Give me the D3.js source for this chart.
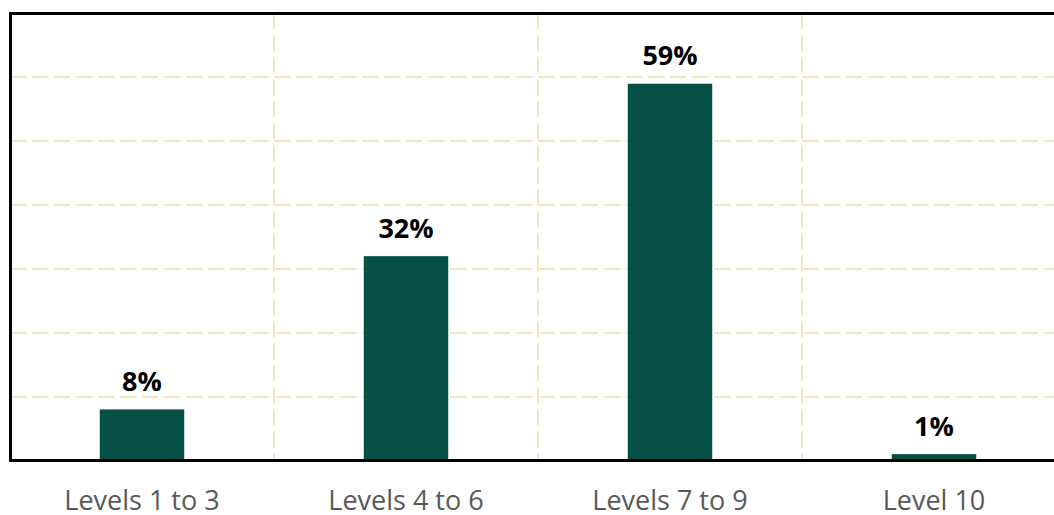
<!DOCTYPE html>
<html>
<head>
<meta charset="utf-8">
<script src="https://cdn.jsdelivr.net/npm/d3@7"></script>
<style>
  html, body { margin: 0; padding: 0; background: #ffffff; }
  svg { display: block; }
</style>
</head>
<body>
<svg id="chart" width="1054" height="515"></svg>
<script>
// Share of respondents by level band
const categories = ["Levels 1 to 3", "Levels 4 to 6", "Levels 7 to 9", "Level 10"];
const shares = [8, 32, 59, 1];
const gridValues = [10, 20, 30, 40, 50, 60];

const svg = d3.select("#chart");
const plotLeft = 10.5, plotRight = 1066, plotTop = 13.5, plotBottom = 460.5;

const x = d3.scaleBand()
  .domain(categories)
  .range([plotLeft - 0.5, plotRight])
  .paddingInner(0.68)
  .paddingOuter(0.34);

const y = d3.scaleLinear().domain([0, 70]).range([plotBottom, plotTop]);

const gridColor = "#eee6bf";

// horizontal dashed gridlines
svg.append("g")
  .selectAll("line")
  .data(gridValues)
  .join("line")
  .attr("x1", plotLeft).attr("x2", plotRight)
  .attr("y1", d => Math.round(y(d)))
  .attr("y2", d => Math.round(y(d)))
  .attr("stroke", gridColor)
  .attr("stroke-width", 2)
  .attr("stroke-dasharray", "16,6");

// vertical dashed separators between categories
const step = x.step();
const sepX = d => Math.round(x(d) - x.paddingInner() * step / 2);
svg.append("g")
  .selectAll("line")
  .data(categories.slice(1))
  .join("line")
  .attr("x1", sepX)
  .attr("x2", sepX)
  .attr("y1", plotTop).attr("y2", plotBottom)
  .attr("stroke", gridColor)
  .attr("stroke-width", 2)
  .attr("stroke-dasharray", "16,6");

// bars
svg.append("g")
  .selectAll("rect")
  .data(categories)
  .join("rect")
  .attr("x", d => x(d))
  .attr("width", x.bandwidth())
  .attr("y", (d, i) => y(shares[i]))
  .attr("height", (d, i) => plotBottom - y(shares[i]))
  .attr("fill", "#064f45");

// value labels
svg.append("g")
  .selectAll("text")
  .data(categories)
  .join("text")
  .attr("x", d => x(d) + x.bandwidth() / 2)
  .attr("y", (d, i) => y(shares[i]) - 18.5)
  .attr("text-anchor", "middle")
  .attr("font-family", "'Open Sans', 'Noto Sans', sans-serif")
  .attr("font-weight", "bold")
  .attr("font-size", 27)
  .attr("fill", "#000")
  .text((d, i) => shares[i] + "%");

// frame
svg.append("path")
  .attr("d", `M${plotRight},${plotTop} H${plotLeft} V${plotBottom} H${plotRight}`)
  .attr("fill", "none")
  .attr("stroke", "#000")
  .attr("stroke-width", 3);

// category axis labels
const xAxis = d3.axisBottom(x).tickSize(0).tickPadding(0);
const ax = svg.append("g")
  .attr("transform", `translate(0,${plotBottom})`)
  .call(xAxis);
ax.select(".domain").remove();
ax.selectAll("text")
  .attr("dy", 0)
  .attr("y", 49.5)
  .attr("font-family", "'Open Sans', 'Noto Sans', sans-serif")
  .attr("font-size", 27)
  .attr("fill", "#595959");
</script>
</body>
</html>
